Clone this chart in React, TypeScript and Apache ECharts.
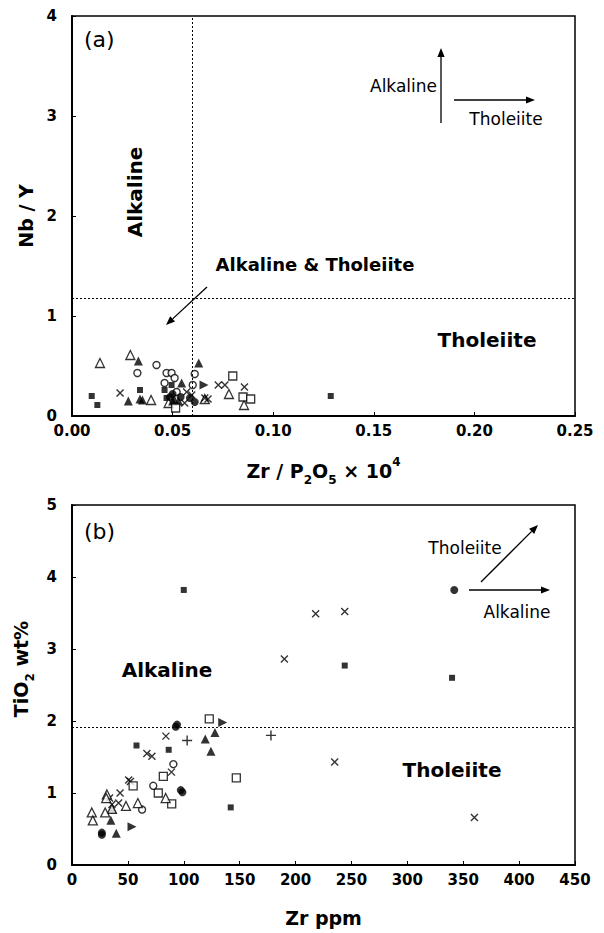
import React, { useEffect, useRef } from 'react';
import * as echarts from 'echarts';

const FONT = 'DejaVu Sans';

// ---- Panel (a): Nb/Y vs Zr/P2O5 x 10^4 ----
const A_X = { min: 0, max: 0.25, interval: 0.05 };
const A_Y = { min: 0, max: 4, interval: 1 };
const A_VLINE = 0.0565;
const A_HLINE = 1.18;

const aFilledSquare = [[0.0098, 0.20], [0.0126, 0.11], [0.0338, 0.26], [0.046, 0.26], [0.047, 0.18], [0.0495, 0.31], [0.1286, 0.20]];
const aOpenTriangle = [[0.0139, 0.53], [0.029, 0.61], [0.0393, 0.16], [0.048, 0.13], [0.066, 0.17], [0.078, 0.22], [0.0855, 0.11]];
const aFilledTriangle = [[0.028, 0.15], [0.033, 0.55], [0.0338, 0.17], [0.035, 0.16], [0.0545, 0.33], [0.063, 0.53], [0.051, 0.16], [0.053, 0.15], [0.050, 0.15]];
const aOpenCircle = [[0.0325, 0.43], [0.042, 0.51], [0.047, 0.43], [0.0495, 0.43], [0.051, 0.38], [0.046, 0.33], [0.052, 0.24], [0.061, 0.42], [0.060, 0.31]];
const aCross = [[0.0239, 0.23], [0.056, 0.13], [0.057, 0.24], [0.0595, 0.21], [0.066, 0.18], [0.0676, 0.17], [0.0727, 0.31], [0.076, 0.31], [0.0857, 0.29]];
const aFilledCircle = [[0.0487, 0.19], [0.061, 0.14], [0.0586, 0.18], [0.050, 0.22], [0.054, 0.19]];
const aOpenSquare = [[0.0515, 0.08], [0.0799, 0.40], [0.085, 0.19], [0.0888, 0.17]];
const aTriRight = [[0.0656, 0.31]];

// ---- Panel (b): TiO2 wt% vs Zr ppm ----
const B_X = { min: 0, max: 450, interval: 50 };
const B_Y = { min: 0, max: 5, interval: 1 };
const B_HLINE = 1.92;

const bFilledSquare = [[100, 3.82], [244, 2.77], [340, 2.6], [57.7, 1.66], [86.5, 1.6], [142, 0.8]];
const bCross = [[218, 3.49], [244, 3.52], [190, 2.86], [235, 1.43], [360, 0.66], [84, 1.79], [67, 1.55], [71.5, 1.51], [89, 1.29], [50.7, 1.18], [52.3, 1.16], [43, 1.0], [33.6, 0.93], [41.7, 0.86], [35.7, 0.84]];
const bPlus = [[103, 1.73], [178, 1.8]];
const bFilledCircle = [[342, 3.82], [92.8, 1.92], [94, 1.95], [97.3, 1.04], [98.8, 1.01], [26.7, 0.45], [26.7, 0.42]];
const bOpenSquare = [[122.8, 2.03], [147, 1.21], [81.7, 1.23], [54.7, 1.10], [77.2, 1.0], [89.2, 0.85]];
const bTriRight = [[134.8, 1.98], [53.7, 0.53]];
const bFilledTriangle = [[127.9, 1.84], [119.2, 1.75], [124.3, 1.58], [34.8, 0.62], [39.6, 0.44], [36, 0.78]];
const bOpenCircle = [[90.7, 1.40], [72.7, 1.10], [62.7, 0.77]];
const bOpenTriangle = [[83.8, 0.93], [31.2, 0.98], [30.6, 0.93], [48.3, 0.82], [58.9, 0.86], [35.7, 0.78], [29.7, 0.73], [17.7, 0.73], [18.6, 0.62]];

const CROSS = 'path://M0,0L10,10M10,0L0,10';
const PLUS = 'path://M5,0L5,10M0,5L10,5';
const TRI_RIGHT = 'path://M0,0L10,5L0,10Z';

type Kind = 'fsq' | 'osq' | 'ftri' | 'otri' | 'fcir' | 'ocir' | 'cross' | 'plus' | 'tright';

function styleFor(kind: Kind) {
  switch (kind) {
    case 'fsq': return { symbol: 'rect', symbolSize: 6, itemStyle: { color: '#000' } };
    case 'osq': return { symbol: 'rect', symbolSize: 8, itemStyle: { color: '#fff', borderColor: '#000', borderWidth: 1.3 } };
    case 'ftri': return { symbol: 'triangle', symbolSize: 9, itemStyle: { color: '#000' } };
    case 'otri': return { symbol: 'triangle', symbolSize: 9, itemStyle: { color: '#fff', borderColor: '#000', borderWidth: 1.3 } };
    case 'fcir': return { symbol: 'circle', symbolSize: 8, itemStyle: { color: '#000' } };
    case 'ocir': return { symbol: 'circle', symbolSize: 7, itemStyle: { color: '#fff', borderColor: '#000', borderWidth: 1.4 } };
    case 'cross': return { symbol: CROSS, symbolSize: 7, itemStyle: { color: 'rgba(0,0,0,0)', borderColor: '#000', borderWidth: 1.4 } };
    case 'plus': return { symbol: PLUS, symbolSize: 10, itemStyle: { color: 'rgba(0,0,0,0)', borderColor: '#000', borderWidth: 1.4 } };
    case 'tright': return { symbol: TRI_RIGHT, symbolSize: 9, itemStyle: { color: '#000' } };
  }
}

function scatter(name: string, data: number[][], kind: Kind, idx: number) {
  return {
    type: 'scatter',
    name,
    xAxisIndex: idx,
    yAxisIndex: idx,
    data,
    silent: true,
    z: 3,
    ...styleFor(kind),
  };
}

function arrow(x1: number, y1: number, x2: number, y2: number, head = 9, half = 3.6, w = 1.3) {
  const dx = x2 - x1, dy = y2 - y1;
  const len = Math.sqrt(dx * dx + dy * dy);
  const ux = dx / len, uy = dy / len;
  const bx = x2 - ux * head, by = y2 - uy * head;
  const nx = -uy, ny = ux;
  return [
    { type: 'line', shape: { x1, y1, x2: bx, y2: by }, style: { stroke: '#000', lineWidth: w } },
    {
      type: 'polygon',
      shape: { points: [[x2, y2], [bx + nx * half, by + ny * half], [bx - nx * half, by - ny * half]] },
      style: { fill: '#000' },
    },
  ];
}

function txt(text: string, x: number, y: number, size: number, bold = true, align = 'center', rotation = 0) {
  return {
    type: 'text',
    x, y, rotation,
    style: {
      text, fontFamily: FONT, fontSize: size, fontWeight: bold ? 'bold' : 'normal',
      fill: '#000', textAlign: align, textVerticalAlign: 'middle',
    },
    z: 10,
  };
}

const tickLabel = { color: '#000', fontFamily: FONT, fontWeight: 'bold', fontSize: 15 };

function xAxisCfg(idx: number, r: any, name: string, gap: number, fmt?: (v: number) => string) {
  return {
    type: 'value', gridIndex: idx, min: r.min, max: r.max, interval: r.interval,
    name, nameLocation: 'middle', nameGap: gap,
    nameTextStyle: {
      color: '#000',
      rich: {
        n: { fontFamily: FONT, fontWeight: 'bold', fontSize: 19, lineHeight: 30, color: '#000' },
        s: { fontFamily: FONT, fontWeight: 'bold', fontSize: 12, lineHeight: 12, verticalAlign: 'bottom', color: '#000' },
        p: { fontFamily: FONT, fontWeight: 'bold', fontSize: 12, lineHeight: 12, verticalAlign: 'top', color: '#000' },
      },
    },
    axisLine: { show: true, onZero: false, lineStyle: { color: '#000', width: 2 } },
    axisTick: { show: true, inside: true, length: 4, lineStyle: { color: '#000', width: 1 } },
    axisLabel: { ...tickLabel, margin: 7, formatter: fmt },
    splitLine: { show: false },
  };
}

function yAxisCfg(idx: number, r: any, name: string, gap: number, shiftUp = 0) {
  return {
    type: 'value', gridIndex: idx, min: r.min, max: r.max, interval: r.interval,
    name, nameLocation: 'middle', nameGap: gap, nameRotate: 90,
    nameTextStyle: {
      color: '#000',
      padding: [0, 0, 0, shiftUp * 2],
      rich: {
        n: { fontFamily: FONT, fontWeight: 'bold', fontSize: 19, lineHeight: 30, color: '#000' },
        s: { fontFamily: FONT, fontWeight: 'bold', fontSize: 12, lineHeight: 12, verticalAlign: 'bottom', color: '#000' },
      },
    },
    axisLine: { show: true, onZero: false, lineStyle: { color: '#000', width: 2 } },
    axisTick: { show: true, inside: true, length: 4, lineStyle: { color: '#000', width: 1 } },
    axisLabel: { ...tickLabel, margin: 15 },
    splitLine: { show: false },
  };
}

function dashedLines(lines: any[]) {
  return {
    silent: true,
    symbol: 'none',
    label: { show: false },
    lineStyle: { color: '#000', type: [2, 2], width: 1 },
    data: lines,
  };
}

export default function App() {
  const ref = useRef<HTMLDivElement>(null);
  useEffect(() => {
    if (!ref.current) return;
    const chart = echarts.init(ref.current, null, { renderer: 'svg' });
    const gA = { left: 72, top: 16, width: 503, height: 400 };
    const gB = { left: 72, top: 505, width: 503, height: 360 };

    const seriesA: any[] = [
      scatter('a-fsq', aFilledSquare, 'fsq', 0),
      scatter('a-otri', aOpenTriangle, 'otri', 0),
      scatter('a-ftri', aFilledTriangle, 'ftri', 0),
      scatter('a-ocir', aOpenCircle, 'ocir', 0),
      scatter('a-cross', aCross, 'cross', 0),
      scatter('a-fcir', aFilledCircle, 'fcir', 0),
      scatter('a-osq', aOpenSquare, 'osq', 0),
      scatter('a-tright', aTriRight, 'tright', 0),
    ];
    seriesA[0].markLine = dashedLines([{ xAxis: A_VLINE }, { yAxis: A_HLINE }]);
    const seriesB: any[] = [
      scatter('b-fsq', bFilledSquare, 'fsq', 1),
      scatter('b-cross', bCross, 'cross', 1),
      scatter('b-plus', bPlus, 'plus', 1),
      scatter('b-fcir', bFilledCircle, 'fcir', 1),
      scatter('b-osq', bOpenSquare, 'osq', 1),
      scatter('b-tright', bTriRight, 'tright', 1),
      scatter('b-ftri', bFilledTriangle, 'ftri', 1),
      scatter('b-ocir', bOpenCircle, 'ocir', 1),
      scatter('b-otri', bOpenTriangle, 'otri', 1),
    ];
    seriesB[0].markLine = dashedLines([{ yAxis: B_HLINE }]);

    const graphic: any[] = [
      txt('(a)', 84, 39, 22, false, 'left'),
      txt('Alkaline', 135, 192, 20, true, 'center', Math.PI / 2),
      txt('Alkaline & Tholeiite', 315, 264, 18, true),
      txt('Tholeiite', 487, 340, 20, true),
      ...arrow(207, 287, 166, 325),
      ...arrow(441, 123, 441, 48),
      ...arrow(454, 100, 535, 100),
      txt('Alkaline', 437, 86, 17, false, 'right'),
      txt('Tholeiite', 506, 119, 17, false),
      txt('(b)', 84, 531, 22, false, 'left'),
      txt('Alkaline', 167, 670, 20, true),
      txt('Tholeiite', 452, 770, 20, true),
      txt('Tholeiite', 465, 548, 17, false),
      ...arrow(481, 582, 538, 525),
      ...arrow(469, 590, 550, 590),
      txt('Alkaline', 517, 612, 17, false),
    ];

    chart.setOption({
      animation: false,
      backgroundColor: '#fff',
      textStyle: { fontFamily: FONT },
      grid: [
        { ...gA, show: true, borderColor: '#000', borderWidth: 1.5, backgroundColor: 'transparent' },
        { ...gB, show: true, borderColor: '#000', borderWidth: 1.5, backgroundColor: 'transparent' },
      ],
      xAxis: [
        xAxisCfg(0, A_X, '{n|Zr / P}{s|2}{n|O}{s|5}{n| × 10}{p|4}', 40, (v: number) => v.toFixed(2)),
        xAxisCfg(1, B_X, '{n|Zr ppm}', 38),
      ],
      yAxis: [
        yAxisCfg(0, A_Y, '{n|Nb / Y}', 30),
        yAxisCfg(1, B_Y, '{n|TiO}{s|2}{n| wt%}', 30, 16),
      ],
      series: [...seriesA, ...seriesB],
      graphic,
    });
    return () => chart.dispose();
  }, []);
  return <div ref={ref} style={{ width: 604, height: 933, position: 'absolute', left: 0, top: 0, background: '#fff' }} />;
}
